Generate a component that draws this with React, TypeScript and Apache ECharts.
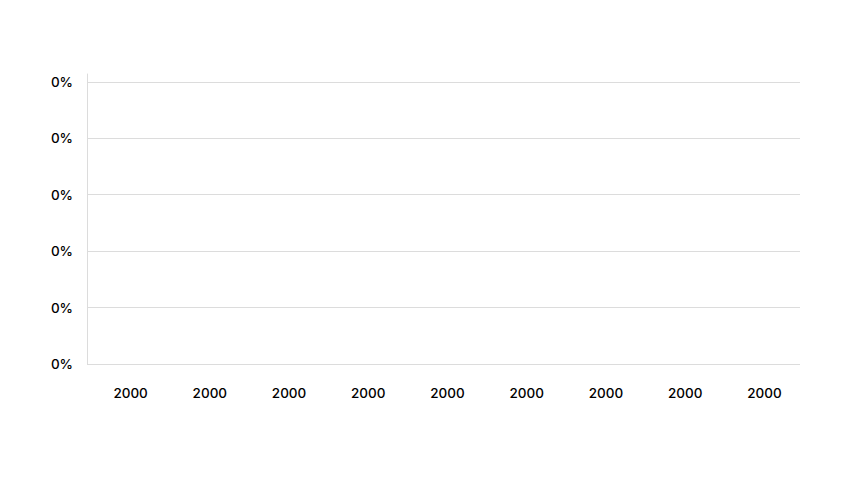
import React, { useRef, useEffect } from 'react';
import * as echarts from 'echarts';

const categories = ['2000', '2000', '2000', '2000', '2000', '2000', '2000', '2000', '2000'];
const seriesValues = [0, 0, 0, 0, 0, 0, 0, 0, 0];
const yTickLabel = '0%';

const App: React.FC = () => {
  const chartRef = useRef<HTMLDivElement>(null);

  useEffect(() => {
    if (!chartRef.current) return;
    const chart = echarts.init(chartRef.current, undefined, { renderer: 'svg' });

    const option: echarts.EChartsOption = {
      animation: false,
      textStyle: { fontFamily: 'Inter, sans-serif' },
      grid: { left: 79, right: 44, top: 66, bottom: 108, containLabel: false },
      xAxis: {
        type: 'category',
        data: categories,
        axisLine: { show: false },
        axisTick: { show: false },
        axisLabel: { color: '#000', fontSize: 13.5, fontWeight: 500, margin: 22, padding: [0, 0, 0, 8] },
      },
      yAxis: {
        type: 'value',
        min: 0,
        max: 5.14,
        interval: 1,
        axisLine: { show: true, lineStyle: { color: '#dcdcdc' } },
        axisTick: { show: false },
        axisLabel: {
          color: '#000',
          fontSize: 13.5,
          fontWeight: 500,
          margin: 14,
          showMaxLabel: false,
          formatter: () => yTickLabel,
        },
        splitLine: { show: true, showMaxLine: false, lineStyle: { color: '#dcdcdc' } },
      } as any,
      series: [
        {
          type: 'bar',
          data: seriesValues,
          itemStyle: { color: '#4e79a7' },
        },
      ],
    };

    chart.setOption(option);
    return () => chart.dispose();
  }, []);

  return <div ref={chartRef} style={{ width: 836, height: 464 }} />;
};

export default App;
